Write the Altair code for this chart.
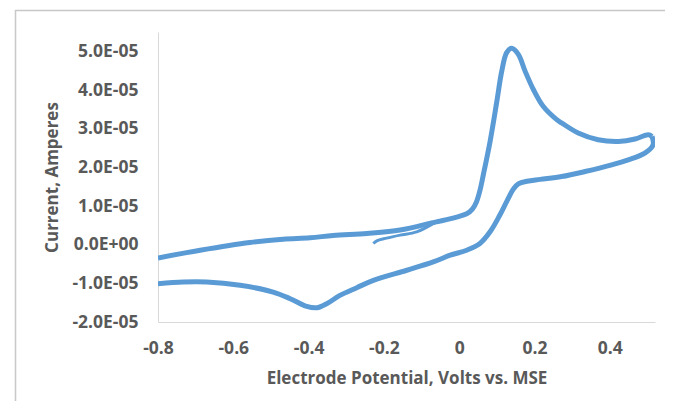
import altair as alt
import pandas as pd

# Potential (V vs. MSE) and current (A)
tail_v = [-0.228, -0.219, -0.193, -0.157, -0.113, -0.065]
tail_i = [0.031e-5, 0.099e-5, 0.169e-5, 0.247e-5, 0.330e-5, 0.570e-5]

fwd_v = [-0.800, -0.688, -0.556, -0.468, -0.396, -0.335, -0.245, -0.157, -0.070,
         -0.051, -0.007, 0.020, 0.035, 0.046, 0.055, 0.064, 0.082, 0.100, 0.113,
         0.126, 0.139, 0.157, 0.175, 0.197, 0.223, 0.259, 0.272, 0.316, 0.369,
         0.423, 0.467, 0.502, 0.512]
fwd_i = [-0.343e-5, -0.143e-5, 0.057e-5, 0.143e-5, 0.177e-5, 0.239e-5, 0.291e-5,
         0.377e-5, 0.570e-5, 0.610e-5, 0.714e-5, 0.800e-5, 0.920e-5, 1.112e-5,
         1.400e-5, 1.805e-5, 2.670e-5, 3.709e-5, 4.488e-5, 4.966e-5, 5.078e-5,
         4.922e-5, 4.488e-5, 4.013e-5, 3.579e-5, 3.234e-5, 3.148e-5, 2.888e-5,
         2.714e-5, 2.670e-5, 2.732e-5, 2.844e-5, 2.800e-5]

rev_v = [0.512, 0.515, 0.493, 0.449, 0.405, 0.334, 0.272, 0.215, 0.180, 0.157,
         0.144, 0.126, 0.108, 0.082, 0.055, 0.020, -0.024, -0.069, -0.139, -0.228,
         -0.272, -0.317, -0.352, -0.378, -0.405, -0.449, -0.494, -0.582, -0.671,
         -0.733, -0.800]
rev_i = [2.800e-5, 2.584e-5, 2.369e-5, 2.195e-5, 2.065e-5, 1.891e-5, 1.761e-5,
         1.688e-5, 1.640e-5, 1.570e-5, 1.440e-5, 1.112e-5, 0.766e-5, 0.332e-5,
         0.031e-5, -0.143e-5, -0.273e-5, -0.447e-5, -0.662e-5, -0.922e-5,
         -1.112e-5, -1.312e-5, -1.527e-5, -1.631e-5, -1.597e-5, -1.397e-5,
         -1.226e-5, -1.052e-5, -0.966e-5, -0.966e-5, -1.008e-5]

x_ticks = [-0.8, -0.6, -0.4, -0.2, 0, 0.2, 0.4]
y_ticks = [-2e-5, -1e-5, 0, 1e-5, 2e-5, 3e-5, 4e-5, 5e-5]

rows = []
for seg, (vs, cs, w) in enumerate([(tail_v, tail_i, 3), (fwd_v, fwd_i, 5), (rev_v, rev_i, 5)]):
    for k, (v, c) in enumerate(zip(vs, cs)):
        rows.append({"seg": seg, "k": k, "v": v, "i": c, "w": w})
df = pd.DataFrame(rows)

FONT = "Open Sans"
GREY = "#595959"

y_label = ("datum.value == 0 ? '0.0E+00' : "
           "(datum.value < 0 ? '-' : '') + "
           "format(abs(datum.value) / pow(10, floor(log(abs(datum.value)) / LN10 + 1e-9)), '.1f') + 'E' + "
           "(floor(log(abs(datum.value)) / LN10 + 1e-9) < 0 ? '-' : '+') + "
           "pad(toString(abs(floor(log(abs(datum.value)) / LN10 + 1e-9))), 2, '0', 'left')")
x_label = ("datum.value == 0 ? '0' : (datum.value < 0 ? '-' : '') + format(abs(datum.value), '.1f')")

line = alt.Chart(df).mark_line(clip=True, color="#5B9BD5", interpolate="catmull-rom").encode(
    x=alt.X("v:Q", scale=alt.Scale(domain=[-0.8, 0.52], nice=False, zero=False),
            axis=alt.Axis(values=x_ticks, labelExpr=x_label, title="Electrode Potential, Volts vs. MSE",
                          grid=False, ticks=False, tickSize=0, labelPadding=17, titlePadding=14,
                          domainColor="#d9d9d9", labelFlush=False)),
    y=alt.Y("i:Q", scale=alt.Scale(domain=[-2e-5, 5.5e-5], nice=False, zero=False),
            axis=alt.Axis(values=y_ticks, labelExpr=y_label, title="Current, Amperes",
                          grid=False, ticks=False, tickSize=0, labelPadding=20, titlePadding=10,
                          domainColor="#d9d9d9", labelFlush=False)),
    detail="seg:N",
    order="k:Q",
    size=alt.Size("w:Q", scale=None, legend=None),
)

frame = alt.Data(values=[{"f": 1}])
frame_left = alt.Chart(frame).mark_rule(color="#c8c8c8", strokeWidth=1.5).encode(
    x=alt.value(-142.5), y=alt.value(-22), y2=alt.value(420))
frame_top = alt.Chart(frame).mark_rule(color="#c8c8c8", strokeWidth=1.5).encode(
    x=alt.value(-143), x2=alt.value(600), y=alt.value(-21.5))

chart = alt.layer(frame_left, frame_top, line).properties(
    width=497, height=290,
    autosize=alt.AutoSizeParams(type="none"),
    padding={"left": 150, "top": 24, "right": 10, "bottom": 79},
).configure_view(stroke=None).configure_axis(
    labelFont=FONT, titleFont=FONT, labelFontSize=17.5, titleFontSize=17,
    labelFontWeight="bold", titleFontWeight="bold",
    labelColor=GREY, titleColor=GREY, domainWidth=1,
)

chart.save("out.html", embed_options={"renderer": "svg", "actions": False})
